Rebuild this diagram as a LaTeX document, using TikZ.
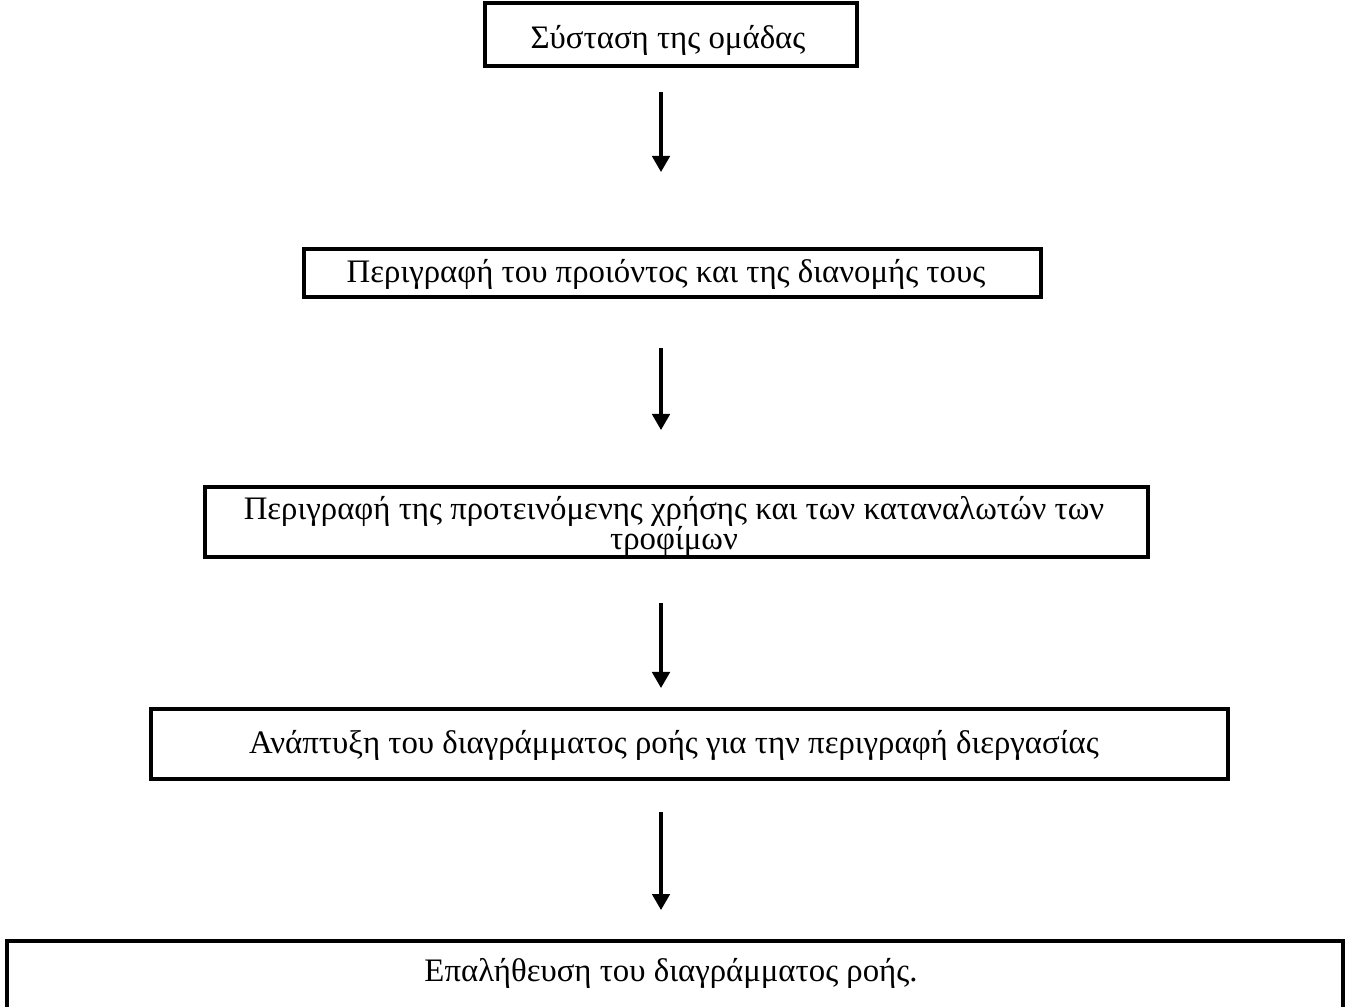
\documentclass[tikz,border=0pt]{standalone}
\usepackage{fontspec}
\setmainfont{Liberation Serif}
\usetikzlibrary{arrows.meta}

\newcommand{\px}{0.375pt}
\tikzset{
  stepbox/.style={draw, line width=1.15pt, inner sep=0pt},
  txt/.style={anchor=base, inner sep=0pt, font=\fontsize{12.3}{11.6}\selectfont},
  flow/.style={line width=1.15pt, -{Triangle[width=6.6pt,length=6pt]}}
}

\begin{document}
\begin{tikzpicture}[x=0.375pt, y=-0.375pt]
    \useasboundingbox (0,0) rectangle (1345,1007);

    % Πλαίσια
    \node[stepbox, minimum width=372*\px, minimum height=63*\px]  (b1) at (671,34.5) {};
    \node[stepbox, minimum width=737*\px, minimum height=48*\px]  (b2) at (672.5,273) {};
    \node[stepbox, minimum width=943*\px, minimum height=70*\px]  (b3) at (676.5,522) {};
    \node[stepbox, minimum width=1077*\px, minimum height=70*\px] (b4) at (689.5,744) {};
    \node[stepbox, minimum width=1336*\px, minimum height=70*\px] (b5) at (675,976) {};

    % Κείμενα
    \node[txt] (t1) at (668,49) {Σύσταση της ομάδας};
    \node[txt] (t2) at (666,283) {Περιγραφή του προιόντος και της διανομής τους};
    \node[txt, align=center] (t3) at (674,550)
        {Περιγραφή της προτεινόμενης χρήσης και των καταναλωτών των\\τροφίμων};
    \node[txt] (t4) at (674,753) {Ανάπτυξη του διαγράμματος ροής για την περιγραφή διεργασίας};
    \node[txt] (t5) at (671,981) {Επαλήθευση του διαγράμματος ροής.};

    % Βέλη
    \foreach \i/\ya/\yb in {1/92/172, 2/348/430, 3/603/688, 4/812/910} {
        \coordinate (s\i) at (661,\ya);
        \coordinate (e\i) at (661,\yb);
        \draw[flow] (s\i) -- (e\i);
    }
\end{tikzpicture}
\end{document}
